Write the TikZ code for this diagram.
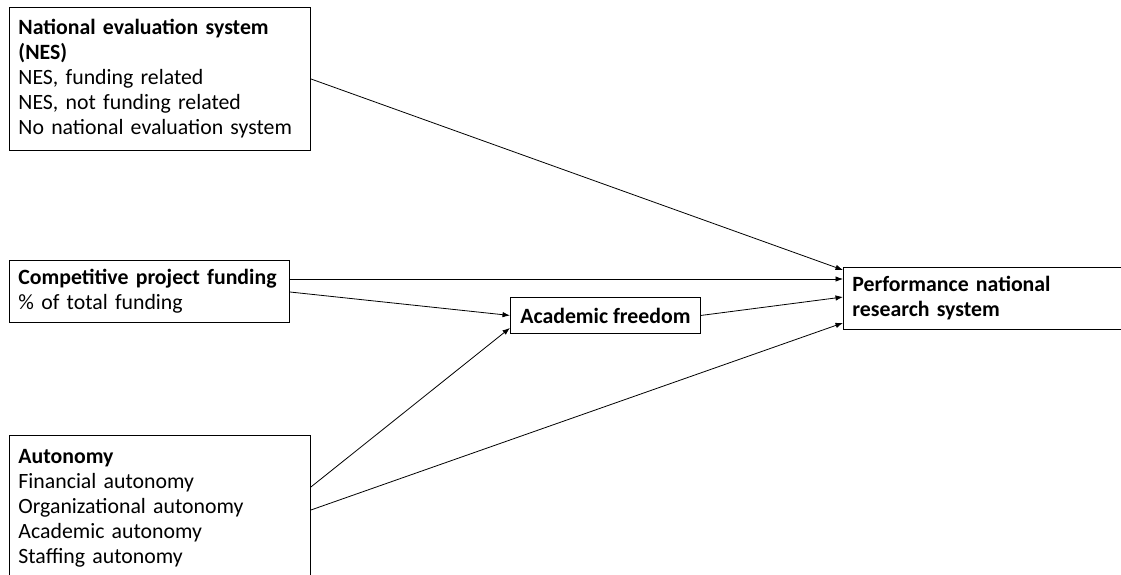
\documentclass[tikz,border=0pt]{standalone}
\usepackage{fontspec}
\setmainfont{Carlito}
\usetikzlibrary{arrows.meta}
\begin{document}
\begin{tikzpicture}[x=1pt,y=-1pt,
  box/.style={draw, line width=0.9pt, inner xsep=9pt, inner ysep=0pt, align=left, anchor=north west,
    font=\fontsize{21.8}{25}\selectfont},
  conn/.style={line width=0.8pt, -{Latex[length=7.5pt,width=5.5pt]}}]
\useasboundingbox (0,0) rectangle (1121,575);
\node[box, text width=283pt, minimum height=143pt] (nes) at (9,7)
  {\textbf{National evaluation system}\\\textbf{(NES)}\\NES, funding related\\NES, not funding related\\No national evaluation system};
\node[box, text width=262pt, minimum height=62pt] (cpf) at (9,260)
  {\textbf{Competitive project funding}\\\% of total funding};
\node[box, text width=283pt, minimum height=145pt] (aut) at (9,435)
  {\textbf{Autonomy}\\Financial autonomy\\Organizational autonomy\\Academic autonomy\\Staffing autonomy};
\node[box, align=center, inner xsep=0pt, minimum width=190pt, minimum height=36pt] (af) at (510,297)
  {\textbf{Academic freedom}};
\node[box, text width=272pt, minimum height=62pt] (perf) at (843,267)
  {\textbf{Performance national}\\\textbf{research system}};
\draw[conn] (nes.east) -- ([yshift=-3pt]perf.north west);
\draw[conn] ([yshift=-19pt]cpf.north east) -- ([yshift=-12pt]perf.north west);
\draw[conn] ([yshift=-32pt]cpf.north east) -- (af.west);
\draw[conn] ([yshift=-52pt]aut.north east) -- ([yshift=6pt]af.south west);
\draw[conn] ([yshift=-75pt]aut.north east) -- ([yshift=7pt]perf.south west);
\draw[conn] (af.east) -- ([yshift=-30pt]perf.north west);
\end{tikzpicture}
\end{document}
